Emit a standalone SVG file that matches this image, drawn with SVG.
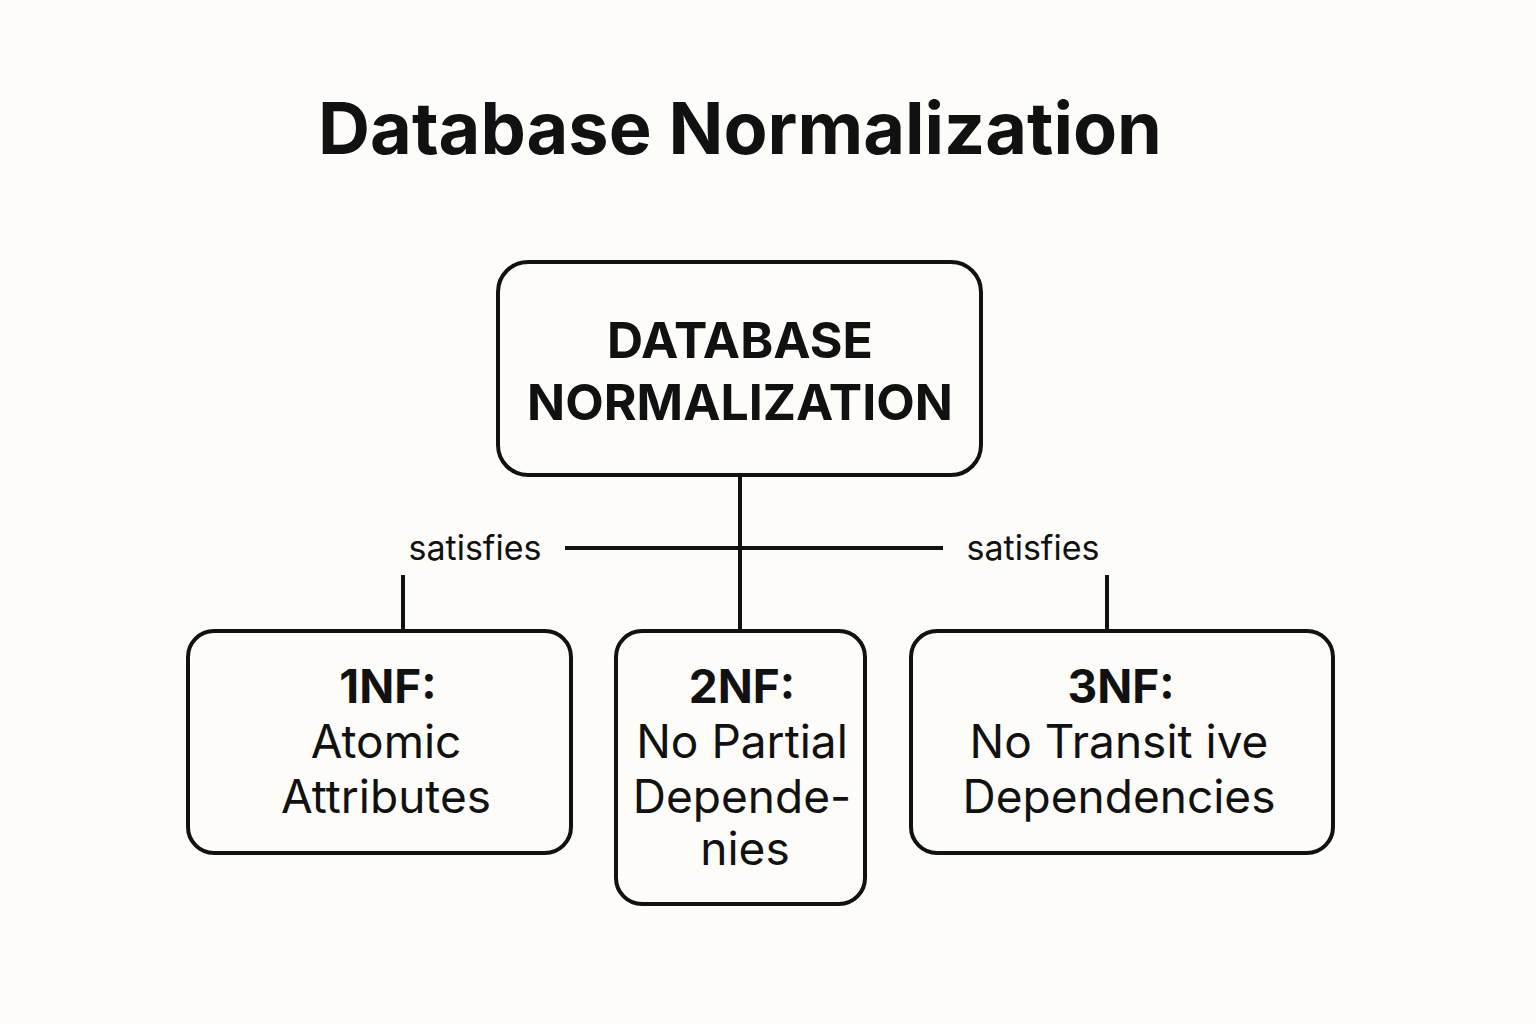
<svg xmlns="http://www.w3.org/2000/svg" width="1536" height="1024" viewBox="0 0 1536 1024">
<style>
.box{fill:none;stroke:#111;stroke-width:4}
.ln{stroke:#111;stroke-width:4;fill:none}
text{font-family:"Inter","Liberation Sans",sans-serif;fill:#111;text-anchor:middle}
.t{font-size:46px}
.b{font-weight:bold}
.s{font-size:34px}
</style>
<rect width="1536" height="1024" fill="#fdfcf8"/>
<text x="740" y="154" font-size="72" class="b">Database Normalization</text>
<g id="connectors">
<line class="ln" x1="740" y1="475" x2="740" y2="631"/>
<line class="ln" x1="565" y1="548" x2="943" y2="548"/>
<line class="ln" x1="403" y1="575" x2="403" y2="631"/>
<line class="ln" x1="1107" y1="575" x2="1107" y2="631"/>
<text x="475" y="560" class="s">satisfies</text>
<text x="1033" y="560" class="s">satisfies</text>
</g>
<g id="root">
<rect class="box" x="498" y="262" width="483" height="213" rx="30"/>
<text x="740" y="358" font-size="50" class="b">DATABASE</text>
<text x="740" y="420" font-size="50" class="b">NORMALIZATION</text>
</g>
<g id="nf1">
<rect class="box" x="188" y="631" width="383" height="222" rx="26"/>
<text x="388" y="703" class="t b">1NF:</text>
<text x="386" y="758" class="t">Atomic</text>
<text x="386" y="813" class="t">Attributes</text>
</g>
<g id="nf2">
<rect class="box" x="616" y="631" width="249" height="273" rx="26"/>
<text x="742" y="703" class="t b">2NF:</text>
<text x="742" y="758" class="t">No Partial</text>
<text x="742" y="813" class="t">Depende-</text>
<text x="745" y="865" class="t">nies</text>
</g>
<g id="nf3">
<rect class="box" x="911" y="631" width="422" height="222" rx="26"/>
<text x="1121" y="703" class="t b">3NF:</text>
<text x="1119" y="758" class="t">No Transit ive</text>
<text x="1119" y="813" class="t">Dependencies</text>
</g>
</svg>
